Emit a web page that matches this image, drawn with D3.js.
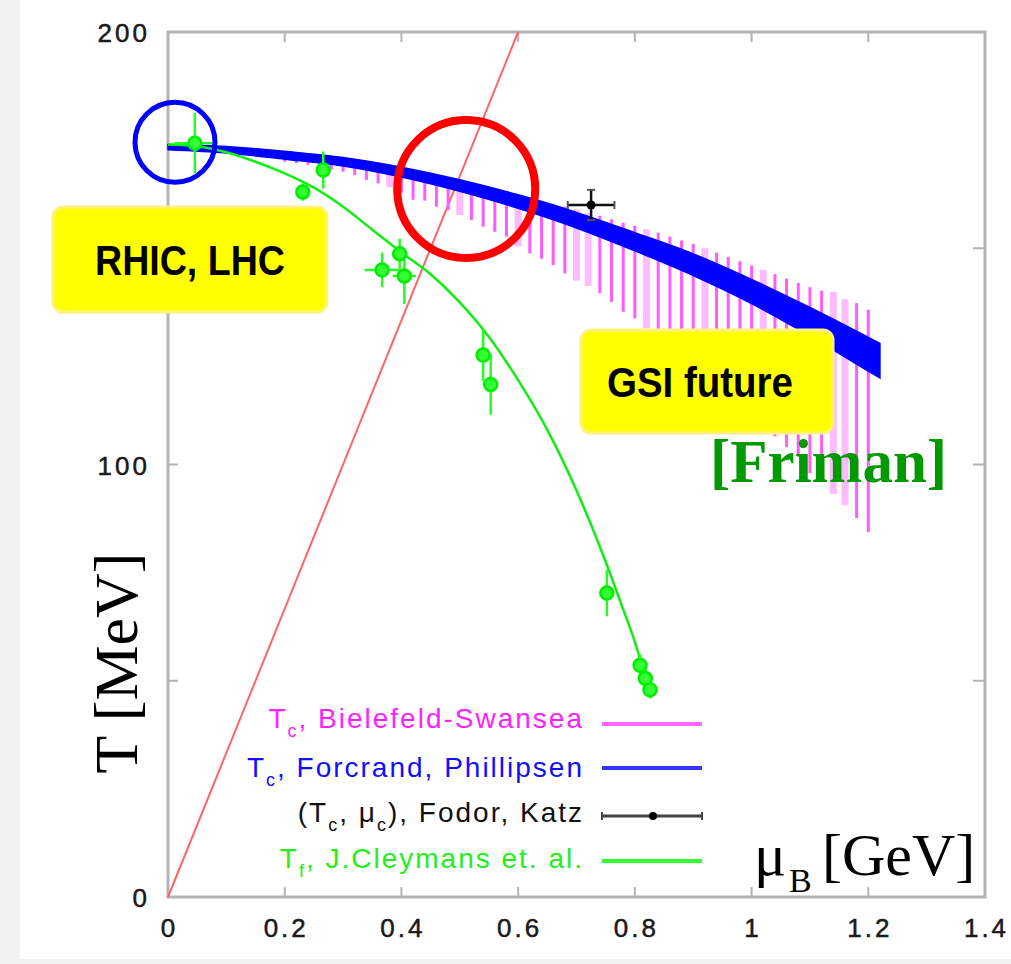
<!DOCTYPE html>
<html>
<head>
<meta charset="utf-8">
<script src="https://cdn.jsdelivr.net/npm/d3@7"></script>
<style>
  html, body { margin: 0; padding: 0; background: #ffffff; }
  svg { display: block; }
</style>
</head>
<body>
<svg id="chart" width="1011" height="964"></svg>
<script>
// ---- axis ticks ----
const xTickValues = [0, 0.2, 0.4, 0.6, 0.8, 1.0, 1.2, 1.4];
const xTickLabels = ["0", "0.2", "0.4", "0.6", "0.8", "1", "1.2", "1.4"];
const yTickValues = [0, 100, 200];
const yTickLabels = ["0", "100", "200"];
const yMinorTicks = [50, 150];

// ---- T_c, Forcrand-Philipsen band: centre and half width ----
const fpMu   = [0.00, 0.10, 0.20, 0.30, 0.40, 0.50, 0.60, 0.70, 0.80, 0.90, 1.00, 1.10, 1.20, 1.22];
const fpT    = [173.4, 172.8, 171.5, 170.0, 167.6, 164.5, 160.8, 156.5, 151.5, 146.2, 140.0, 133.0, 125.5, 124.0];
const fpHalf = [0.6, 0.75, 0.9, 1.0, 1.15, 1.35, 1.55, 1.8, 2.1, 2.5, 2.8, 3.3, 3.9, 4.0];

// ---- T_c, Bielefeld-Swansea: vertical bars ----
const bsMu = [0.20, 0.22, 0.24, 0.26, 0.28, 0.30, 0.32, 0.34, 0.36, 0.38,
              0.40, 0.42, 0.44, 0.46, 0.48, 0.50, 0.52, 0.54, 0.56, 0.58,
              0.60, 0.62, 0.64, 0.66, 0.68, 0.70, 0.72, 0.74, 0.76, 0.78,
              0.80, 0.82, 0.84, 0.86, 0.88, 0.90, 0.92, 0.94, 0.96, 0.98,
              1.00, 1.02, 1.04, 1.06, 1.08, 1.10, 1.12, 1.14, 1.16, 1.18, 1.20];
const bsTop = [171.5, 171.3, 171.0, 170.7, 170.4, 170.0, 169.6, 169.2, 168.7, 168.2,
               167.8, 167.3, 166.8, 166.2, 165.6, 165.2, 164.6, 164.0, 163.4, 162.8,
               162.2, 161.6, 161.0, 160.3, 159.6, 159.0, 158.2, 157.5, 156.7, 155.9,
               155.2, 154.4, 153.6, 152.7, 151.8, 151.0, 150.0, 149.0, 148.0, 147.0,
               146.0, 145.0, 144.0, 143.0, 142.0, 141.0, 140.2, 139.9, 138.2, 137.3, 135.8];
const bsBottom = [170.0, 169.7, 169.3, 168.8, 168.2, 167.7, 166.9, 165.8, 165.0, 164.1,
                  162.8, 161.2, 161.0, 159.6, 158.8, 157.7, 156.5, 155.0, 153.8, 152.7,
                  150.4, 148.8, 147.6, 146.1, 144.2, 142.5, 141.3, 139.6, 137.6, 135.3,
                  133.8, 131.5, 129.5, 127.5, 125.5, 123.0, 121.0, 119.0, 116.5, 114.0,
                  111.5, 109.0, 106.5, 104.0, 102.0, 98.0, 101.0, 93.2, 90.6, 87.6, 84.4];
const bsLightMu = [0.38, 0.50, 0.60, 0.70, 0.72, 0.82, 0.92, 1.02, 1.14, 1.16];

// ---- freeze-out curve T_f, J.Cleymans et al. ----
const foMu = [0.00, 0.05, 0.10, 0.15, 0.20, 0.25, 0.30, 0.35, 0.40, 0.45, 0.50,
              0.55, 0.60, 0.65, 0.70, 0.75, 0.78, 0.80, 0.826];
const foT  = [174.0, 173.6, 172.2, 170.0, 167.3, 164.0, 159.6, 154.3, 149.0, 144.0, 137.5,
              129.5, 119.5, 108.0, 94.0, 77.5, 66.5, 59.0, 47.0];

// ---- freeze-out data points with errors ----
const ptMu    = [0.046, 0.266, 0.231, 0.367, 0.397, 0.405, 0.540, 0.553, 0.752, 0.809, 0.818, 0.826];
const ptT     = [174.3, 168.1, 163.0, 145.0, 148.7, 143.6, 125.3, 118.5, 70.3, 53.6, 50.5, 47.9];
const ptMuErr = [0.035, 0.0, 0.010, 0.030, 0.0, 0.020, 0.0, 0.0, 0.0, 0.0, 0.0, 0.0];
const ptTErr  = [7.0, 4.3, 2.0, 4.0, 3.5, 6.5, 6.0, 7.0, 5.4, 2.5, 2.5, 2.0];

// ---- critical end point (T_c, mu_c), Fodor, Katz ----
const fkMu = [0.725], fkT = [160.0], fkMuErr = [0.040], fkTErr = [3.5];

// ---- line T = mu_B / 3 ----
const diagMu = [0.0, 0.6];
const diagT  = [0.0, 200.0];

// ---- highlighted regions (centre in data units) ----
const ringMu = [0.012, 0.511];
const ringT  = [174.5, 163.7];

// ---- legend entries ----
const legendMain = ["T", "T", "(T", "T"];
const legendRest = [
  [["c", true], [", Bielefeld-Swansea", false]],
  [["c", true], [", Forcrand, Phillipsen", false]],
  [["c", true], [", \u03bc", false], ["c", true], ["), Fodor, Katz", false]],
  [["f", true], [", J.Cleymans et. al.", false]]
];
const legendColor = ["#ff22ff", "#1010ff", "#111111", "#22ee22"];

const svg = d3.select("#chart");

// page background
svg.append("rect").attr("x", 0).attr("y", 0).attr("width", 1011).attr("height", 964).attr("fill", "#ffffff");
svg.append("rect").attr("x", 0).attr("y", 0).attr("width", 20).attr("height", 964).attr("fill", "#f2f2f2");
svg.append("rect").attr("x", 0).attr("y", 959).attr("width", 1011).attr("height", 5).attr("fill", "#f2f2f2");

const x = d3.scaleLinear().domain([0, 1.4]).range([168, 985]);
const y = d3.scaleLinear().domain([0, 200]).range([897, 32]);

// ---- frame and ticks ----
const frameColor = "#b3b3b3";
const gFrame = svg.append("g");
gFrame.append("rect")
  .attr("x", x(0)).attr("y", y(200))
  .attr("width", x(1.4) - x(0)).attr("height", y(0) - y(200))
  .attr("fill", "none").attr("stroke", frameColor).attr("stroke-width", 3);

const xInner = xTickValues.filter(v => v > 0 && v < 1.4);
gFrame.selectAll(".xtb").data(xInner).join("line")
  .attr("x1", d => x(d)).attr("x2", d => x(d))
  .attr("y1", y(0)).attr("y2", y(0) - 10)
  .attr("stroke", frameColor).attr("stroke-width", 2);
gFrame.selectAll(".xtt").data(xInner).join("line")
  .attr("x1", d => x(d)).attr("x2", d => x(d))
  .attr("y1", y(200)).attr("y2", y(200) + 10)
  .attr("stroke", frameColor).attr("stroke-width", 2);
const yInner = yMinorTicks.concat([100]);
gFrame.selectAll(".ytl").data(yInner).join("line")
  .attr("x1", x(0)).attr("x2", x(0) + 10)
  .attr("y1", d => y(d)).attr("y2", d => y(d))
  .attr("stroke", frameColor).attr("stroke-width", 2);
gFrame.selectAll(".ytr").data(yInner).join("line")
  .attr("x1", x(1.4)).attr("x2", x(1.4) - 12)
  .attr("y1", d => y(d)).attr("y2", d => y(d))
  .attr("stroke", frameColor).attr("stroke-width", 2);

// tick labels
const tickFont = "'Liberation Sans', Arial, sans-serif";
svg.append("g").selectAll("text").data(xTickValues).join("text")
  .attr("x", d => x(d) + 1.5).attr("y", 937)
  .attr("text-anchor", "middle")
  .attr("font-family", tickFont).attr("font-size", 26)
  .attr("letter-spacing", 3)
  .attr("fill", "#1a1a1a").attr("stroke", "#1a1a1a").attr("stroke-width", 0.5)
  .text((d, i) => xTickLabels[i]);
svg.append("g").selectAll("text").data(yTickValues).join("text")
  .attr("x", 150).attr("y", d => y(d) + 10)
  .attr("text-anchor", "end")
  .attr("font-family", tickFont).attr("font-size", 26)
  .attr("letter-spacing", 3)
  .attr("fill", "#1a1a1a").attr("stroke", "#1a1a1a").attr("stroke-width", 0.5)
  .text((d, i) => yTickLabels[i]);

// ---- T = mu/3 line ----
const diag = diagMu.map((m, i) => [m, diagT[i]]);
svg.append("path")
  .attr("d", d3.line().x(d => x(d[0])).y(d => y(d[1]))(diag))
  .attr("fill", "none").attr("stroke", "#ff6464").attr("stroke-width", 2);

// ---- Bielefeld-Swansea bars ----
const bars = bsMu.map((m, i) => ({
  mu: m, top: bsTop[i], bottom: bsBottom[i],
  light: bsLightMu.some(v => Math.abs(v - m) < 1e-6)
}));
svg.append("g").selectAll("rect").data(bars).join("rect")
  .attr("x", d => x(d.mu) - (d.light ? 3.5 : 1.5))
  .attr("width", d => d.light ? 7 : 3)
  .attr("y", d => y(d.top))
  .attr("height", d => y(d.bottom) - y(d.top))
  .attr("fill", d => d.light ? "#ffbbff" : "#ff5cff");

// ---- Forcrand-Philipsen band ----
const band = fpMu.map((m, i) => ({ mu: m, t: fpT[i], h: fpHalf[i] }));
svg.append("path")
  .attr("d", d3.area()
    .x(d => x(d.mu))
    .y0(d => y(d.t - d.h))
    .y1(d => y(d.t + d.h))
    .curve(d3.curveMonotoneX)(band))
  .attr("fill", "#0000ff").attr("stroke", "#0000ff").attr("stroke-width", 1.5);

// ---- freeze-out curve ----
const fo = foMu.map((m, i) => [m, foT[i]]);
svg.append("path")
  .attr("d", d3.line().x(d => x(d[0])).y(d => y(d[1])).curve(d3.curveMonotoneX)(fo))
  .attr("fill", "none").attr("stroke", "#11ee11").attr("stroke-width", 2.5);

// ---- freeze-out points ----
const pts = ptMu.map((m, i) => ({ mu: m, t: ptT[i], dm: ptMuErr[i], dt: ptTErr[i] }));
const gPts = svg.append("g");
gPts.selectAll(".ev").data(pts).join("line")
  .attr("x1", d => x(d.mu)).attr("x2", d => x(d.mu))
  .attr("y1", d => y(d.t + d.dt)).attr("y2", d => y(d.t - d.dt))
  .attr("stroke", "#22ff22").attr("stroke-width", 2.5);
gPts.selectAll(".eh").data(pts.filter(d => d.dm > 0)).join("line")
  .attr("x1", d => x(d.mu - d.dm)).attr("x2", d => x(d.mu + d.dm))
  .attr("y1", d => y(d.t)).attr("y2", d => y(d.t))
  .attr("stroke", "#22ff22").attr("stroke-width", 2.5);
gPts.selectAll("circle").data(pts).join("circle")
  .attr("cx", d => x(d.mu)).attr("cy", d => y(d.t)).attr("r", 6.5)
  .attr("fill", "#33ff33").attr("stroke", "#00ee00").attr("stroke-width", 2.5);

// ---- Fodor-Katz point ----
const fk = fkMu.map((m, i) => ({ mu: m, t: fkT[i], dm: fkMuErr[i], dt: fkTErr[i] }));
const gFk = svg.append("g");
fk.forEach(d => {
  gFk.append("line").attr("x1", x(d.mu - d.dm)).attr("x2", x(d.mu + d.dm))
    .attr("y1", y(d.t)).attr("y2", y(d.t)).attr("stroke", "#111").attr("stroke-width", 2.5);
  gFk.append("line").attr("x1", x(d.mu)).attr("x2", x(d.mu))
    .attr("y1", y(d.t + d.dt)).attr("y2", y(d.t - d.dt)).attr("stroke", "#111").attr("stroke-width", 2.5);
  [d.mu - d.dm, d.mu + d.dm].forEach(v => gFk.append("line")
    .attr("x1", x(v)).attr("x2", x(v)).attr("y1", y(d.t) - 4).attr("y2", y(d.t) + 4)
    .attr("stroke", "#555").attr("stroke-width", 2));
  [d.t - d.dt, d.t + d.dt].forEach(v => gFk.append("line")
    .attr("x1", x(d.mu) - 4).attr("x2", x(d.mu) + 4).attr("y1", y(v)).attr("y2", y(v))
    .attr("stroke", "#555").attr("stroke-width", 2));
  gFk.append("circle").attr("cx", x(d.mu)).attr("cy", y(d.t)).attr("r", 4.5).attr("fill", "#000");
});

// ---- highlight rings ----
const ringR = [40, 69], ringW = [5, 8], ringC = ["#0000ff", "#ff0000"];
svg.append("g").selectAll("circle").data(ringMu).join("circle")
  .attr("cx", (d, i) => x(d)).attr("cy", (d, i) => y(ringT[i]))
  .attr("r", (d, i) => ringR[i])
  .attr("fill", "none").attr("stroke", (d, i) => ringC[i]).attr("stroke-width", (d, i) => ringW[i]);

// ---- yellow labels ----
const boxes = [
  { x0: 53, y0: 207, w: 274, h: 105, text: "RHIC, LHC", tx: 190, ty: 275, len: 190 },
  { x0: 581, y0: 330, w: 252, h: 103, text: "GSI future", tx: 700, ty: 397, len: 186 }
];
const gBox = svg.append("g");
boxes.forEach(b => {
  gBox.append("rect").attr("x", b.x0).attr("y", b.y0).attr("width", b.w).attr("height", b.h)
    .attr("rx", 10).attr("ry", 10)
    .attr("fill", "#ffff00").attr("stroke", "#fff27a").attr("stroke-width", 3);
  gBox.append("text").attr("x", b.tx).attr("y", b.ty)
    .attr("text-anchor", "middle")
    .attr("font-family", "'Liberation Sans', Arial, sans-serif")
    .attr("font-weight", "bold").attr("font-size", 42)
    .attr("textLength", b.len).attr("lengthAdjust", "spacingAndGlyphs")
    .attr("fill", "#000").text(b.text);
});

// ---- [Friman] ----
svg.append("text").attr("x", 710).attr("y", 482)
  .attr("font-family", "'Liberation Serif', 'Times New Roman', serif")
  .attr("font-weight", "bold").attr("font-size", 61)
  .attr("fill", "#009900").text("[Friman]");

// ---- axis titles ----
svg.append("text")
  .attr("transform", "translate(137,663) rotate(-90)")
  .attr("text-anchor", "middle")
  .attr("font-family", "'Liberation Serif', 'Times New Roman', serif")
  .attr("font-size", 62).attr("fill", "#000")
  .text("T [MeV]");

const serif = "'Liberation Serif', 'Times New Roman', serif";
svg.append("text").attr("x", 754).attr("y", 875)
  .attr("font-family", serif).attr("font-size", 60).attr("fill", "#000").text("\u03bc");
svg.append("text").attr("x", 789).attr("y", 892)
  .attr("font-family", serif).attr("font-size", 34).attr("fill", "#000").text("B");
svg.append("text").attr("x", 822).attr("y", 875)
  .attr("font-family", serif).attr("font-size", 60).attr("fill", "#000").text("[GeV]");

// ---- legend ----
const legendTextY = [728, 777, 822, 868];
const legendLineY = [724, 768, 816, 861];
const gLeg = svg.append("g");
legendMain.forEach((lead, i) => {
  const t = gLeg.append("text")
    .attr("x", 584).attr("y", legendTextY[i])
    .attr("text-anchor", "end")
    .attr("font-family", "'Liberation Sans', Arial, sans-serif")
    .attr("font-size", 28).attr("letter-spacing", 2)
    .attr("fill", legendColor[i]);
  t.append("tspan").text(lead);
  let sub = false;
  legendRest[i].forEach(([s, isSub]) => {
    const sp = t.append("tspan").text(s);
    if (isSub && !sub) { sp.attr("dy", 9).attr("font-size", 18); sub = true; }
    else if (!isSub && sub) { sp.attr("dy", -9); sub = false; }
  });
});
const lx0 = 602, lx1 = 702;
gLeg.append("line").attr("x1", lx0).attr("x2", lx1).attr("y1", legendLineY[0]).attr("y2", legendLineY[0])
  .attr("stroke", "#ff66ff").attr("stroke-width", 4);
gLeg.append("line").attr("x1", lx0).attr("x2", lx1).attr("y1", legendLineY[1]).attr("y2", legendLineY[1])
  .attr("stroke", "#3333ff").attr("stroke-width", 4);
gLeg.append("line").attr("x1", lx0).attr("x2", lx1).attr("y1", legendLineY[2]).attr("y2", legendLineY[2])
  .attr("stroke", "#444").attr("stroke-width", 3);
[lx0, lx1].forEach(v => gLeg.append("line").attr("x1", v).attr("x2", v)
  .attr("y1", legendLineY[2] - 4).attr("y2", legendLineY[2] + 4).attr("stroke", "#444").attr("stroke-width", 2));
gLeg.append("circle").attr("cx", 653).attr("cy", legendLineY[2]).attr("r", 4).attr("fill", "#000");
gLeg.append("line").attr("x1", lx0).attr("x2", lx1).attr("y1", legendLineY[3]).attr("y2", legendLineY[3])
  .attr("stroke", "#33ff33").attr("stroke-width", 4);
</script>
</body>
</html>
